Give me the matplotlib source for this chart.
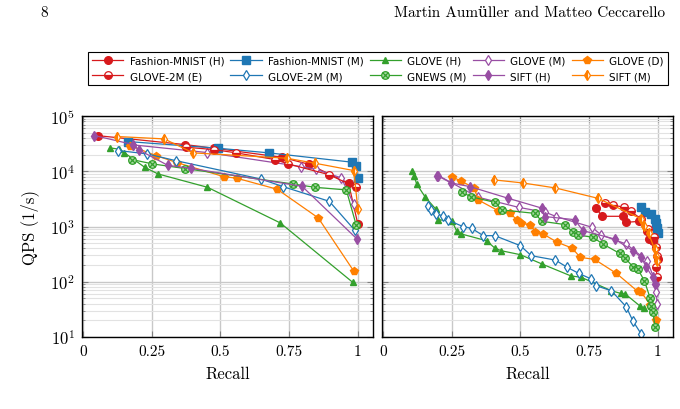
import matplotlib
matplotlib.use('Agg')
import matplotlib.pyplot as plt
from matplotlib.path import Path

plt.rcParams['mathtext.fontset'] = 'cm'
plt.rcParams['axes.formatter.use_mathtext'] = True

# ---------------- data: left panel ----------------
FMH_L_R = [0.056, 0.371, 0.477, 0.724, 0.821, 0.966, 1.0]
FMH_L_Q = [44000, 30400, 26100, 17900, 13400, 6100, 1100]
FMM_L_R = [0.163, 0.492, 0.677, 0.978, 0.992, 1.0]
FMM_L_Q = [34500, 26100, 21500, 14600, 12300, 7470]
GH_L_R = [0.099, 0.133, 0.150, 0.225, 0.273, 0.453, 0.718, 0.982]
GH_L_Q = [26500, 25000, 21800, 11800, 8950, 5130, 1160, 97]
GM_L_R = [0.183, 0.452, 0.795, 0.849, 0.940, 0.985]
GM_L_Q = [30000, 21800, 12100, 10800, 7570, 2560]
GD_L_R = [0.171, 0.266, 0.341, 0.512, 0.560, 0.707, 0.856, 0.985]
GD_L_Q = [29200, 19200, 14400, 8000, 7470, 4720, 1430, 156]
G2E_L_R = [0.375, 0.476, 0.558, 0.698, 0.746, 0.894, 0.994]
G2E_L_Q = [27200, 24700, 21500, 16300, 13600, 8700, 5130]
G2M_L_R = [0.129, 0.234, 0.337, 0.646, 0.728, 0.896, 0.988]
G2M_L_Q = [23700, 20600, 15600, 7260, 5270, 2860, 865]
GN_L_R = [0.178, 0.253, 0.371, 0.763, 0.843, 0.958, 0.994]
GN_L_Q = [16300, 13600, 11200, 5890, 5130, 4590, 1060]
SH_L_R = [0.042, 0.183, 0.203, 0.309, 0.392, 0.797, 0.997]
SH_L_Q = [44300, 30400, 24400, 12800, 11300, 5350, 593]
SM_L_R = [0.126, 0.296, 0.401, 0.742, 0.843, 0.985, 1.0]
SM_L_Q = [42500, 38500, 21500, 17200, 14000, 10300, 2050]

# ---------------- data: right panel ----------------
FMH_R_R = [0.776, 0.797, 0.873, 0.885, 0.933, 0.961, 0.966, 0.982, 1.0]
FMH_R_Q = [2130, 1530, 1530, 1190, 1240, 840, 593, 538, 258]
FMM_R_R = [0.940, 0.954, 0.976, 0.988, 0.994, 0.997, 1.0]
FMM_R_Q = [2220, 1810, 1690, 1370, 1140, 940, 752]
GH_R_R = [0.107, 0.113, 0.123, 0.153, 0.192, 0.202, 0.252, 0.268, 0.286, 0.377,
          0.407, 0.431, 0.500, 0.579, 0.683, 0.722, 0.831, 0.865, 0.882, 0.934, 0.949]
GH_R_Q = [10000, 8340, 5890, 3470, 2080, 1330, 1240, 840, 731, 553,
          407, 364, 309, 209, 128, 120, 68.7, 61.5, 59.8, 36.7, 33.3]
GM_R_R = [0.202, 0.347, 0.494, 0.591, 0.631, 0.761, 0.794, 0.885, 0.961, 0.994, 0.994, 0.997]
GM_R_Q = [8340, 3380, 2220, 1810, 1510, 966, 702, 482, 240, 90.8, 64, 39.4]
GD_R_R = [0.250, 0.286, 0.332, 0.347, 0.419, 0.462, 0.488, 0.504, 0.535, 0.555,
          0.583, 0.635, 0.688, 0.718, 0.770, 0.849, 0.927, 0.940, 0.973, 0.992]
GD_R_Q = [8000, 6590, 4990, 3020, 1940, 1760, 1310, 1140, 1080, 806,
          731, 516, 407, 276, 254, 142, 66.8, 64.1, 38.3, 20.5]
G2E_R_R = [0.806, 0.837, 0.877, 0.901, 0.940, 0.964, 0.986, 0.994, 0.997, 0.994, 0.997]
G2E_R_Q = [2670, 2450, 2220, 1880, 1370, 902, 637, 419, 296, 182, 120]
G2M_R_R = [0.163, 0.175, 0.192, 0.217, 0.236, 0.292, 0.323, 0.365, 0.407, 0.500,
           0.540, 0.627, 0.671, 0.712, 0.758, 0.776, 0.831, 0.885, 0.909, 0.940]
G2M_R_Q = [2390, 1990, 1690, 1570, 1310, 994, 927, 683, 683, 450,
           296, 247, 182, 142, 112, 84.6, 68.7, 35.2, 19.6, 11.2]
GN_R_R = [0.289, 0.319, 0.407, 0.434, 0.552, 0.579, 0.664, 0.691, 0.710, 0.764,
          0.800, 0.861, 0.881, 0.909, 0.927, 0.951, 0.972, 0.976, 0.982, 0.990]
GN_R_Q = [4160, 3470, 2740, 1990, 1730, 1240, 1080, 783, 702, 637,
          482, 326, 269, 187, 170, 104, 50.6, 36.7, 27.8, 15.3]
SH_R_R = [0.198, 0.248, 0.316, 0.456, 0.577, 0.591, 0.697, 0.728, 0.843, 0.909,
          0.940, 0.958, 0.982, 0.988]
SH_R_Q = [8340, 6150, 5280, 3240, 2160, 1510, 1330, 840, 593, 364,
          276, 182, 120, 90.8]
SM_R_R = [0.405, 0.508, 0.627, 0.782, 0.940, 0.949, 0.966, 0.988, 0.994, 0.997]
SM_R_Q = [6970, 6150, 4990, 3240, 1370, 1040, 751, 391, 296, 240]

LABELS = ['Fashion-MNIST (H)', 'Fashion-MNIST (M)', 'GLOVE (H)', 'GLOVE (M)', 'GLOVE (D)',
          'GLOVE-2M (E)', 'GLOVE-2M (M)', 'GNEWS (M)', 'SIFT (H)', 'SIFT (M)']
LEFT = [(FMH_L_R, FMH_L_Q), (FMM_L_R, FMM_L_Q), (GH_L_R, GH_L_Q), (GM_L_R, GM_L_Q),
        (GD_L_R, GD_L_Q), (G2E_L_R, G2E_L_Q), (G2M_L_R, G2M_L_Q), (GN_L_R, GN_L_Q),
        (SH_L_R, SH_L_Q), (SM_L_R, SM_L_Q)]
RIGHT = [(FMH_R_R, FMH_R_Q), (FMM_R_R, FMM_R_Q), (GH_R_R, GH_R_Q), (GM_R_R, GM_R_Q),
         (GD_R_R, GD_R_Q), (G2E_R_R, G2E_R_Q), (G2M_R_R, G2M_R_Q), (GN_R_R, GN_R_Q),
         (SH_R_R, SH_R_Q), (SM_R_R, SM_R_Q)]

X_TICKS = [0, 0.25, 0.5, 0.75, 1]
X_TICKLABELS = ['0', '0.25', '0.5', '0.75', '1']
Y_TICKS = [1e1, 1e2, 1e3, 1e4, 1e5]
Y_TICKLABELS = [r'$10^{1}$', r'$10^{2}$', r'$10^{3}$', r'$10^{4}$', r'$10^{5}$']

# ---------------- styles ----------------
RED = '#d7191c'; BLUE = '#1f77b4'; GREEN = '#33a02c'; PURPLE = '#984ea3'; ORANGE = '#ff7f00'
circ = Path.unit_circle()
cross = Path([[-0.72, -0.72], [0.72, 0.72], [-0.72, 0.72], [0.72, -0.72]],
             [Path.MOVETO, Path.LINETO, Path.MOVETO, Path.LINETO])
otimes = Path.make_compound_path(circ, cross)

STYLES = [
    dict(color=RED, marker='o', ms=5.5, mfc=RED, mec=RED),
    dict(color=BLUE, marker='s', ms=5.5, mfc=BLUE, mec=BLUE),
    dict(color=GREEN, marker='^', ms=4.5, mfc=GREEN, mec=GREEN),
    dict(color=PURPLE, marker='d', ms=5, mfc='white', mec=PURPLE, mew=0.9),
    dict(color=ORANGE, marker='p', ms=5.5, mfc=ORANGE, mec=ORANGE),
    dict(color=RED, marker='o', ms=5.5, mfc=RED, mec=RED, fillstyle='bottom',
         markerfacecoloralt='white', mew=0.9),
    dict(color=BLUE, marker='d', ms=5, mfc='white', mec=BLUE, mew=0.9),
    dict(color=GREEN, marker=otimes, ms=5.5, mfc='#a6dba0', mec=GREEN, mew=0.9),
    dict(color=PURPLE, marker='d', ms=5, mfc=PURPLE, mec=PURPLE),
    dict(color=ORANGE, marker='d', ms=5.5, mfc=ORANGE, mec=ORANGE, fillstyle='left',
         markerfacecoloralt='white', mew=0.9),
]

SERIF = ['cmr10', 'DejaVu Serif']

fig = plt.figure(figsize=(6.8, 4.1), dpi=100)
axL = fig.add_axes([82 / 680, 1 - 338 / 410, 291 / 680, 221 / 410])
axR = fig.add_axes([382 / 680, 1 - 338 / 410, 291 / 680, 221 / 410])

handles = []
for ax, data in ((axL, LEFT), (axR, RIGHT)):
    for (r, q), st, lab in zip(data, STYLES, LABELS):
        ln, = ax.plot(r, q, lw=0.9, label=lab, **st)
        if ax is axL:
            handles.append(ln)
    ax.set_yscale('log')
    ax.set_xlim(-0.003, 1.055)
    ax.set_ylim(10, 1e5)
    ax.set_xticks(X_TICKS)
    ax.set_xticklabels(X_TICKLABELS, family=SERIF, fontsize=11)
    ax.set_yticks(Y_TICKS)
    ax.grid(True, which='major', color='#c8c8c8', lw=1.0)
    ax.grid(True, which='minor', axis='y', color='#e2e2e2', lw=0.8)
    ax.set_axisbelow(True)
    ax.tick_params(which='both', direction='in', top=True, right=True, color='#808080')
    ax.tick_params(which='major', length=4, pad=5)
    ax.tick_params(which='minor', length=2.5)
    for sp in ax.spines.values():
        sp.set_linewidth(1.0)
        sp.set_color('black')
    ax.set_xlabel('Recall', family=SERIF, fontsize=12, labelpad=6)

axL.set_yticklabels(Y_TICKLABELS, fontsize=12)
axR.set_yticklabels([])
axL.set_ylabel('QPS (1/s)', family=SERIF, fontsize=12, labelpad=8)

order = [0, 5, 1, 6, 2, 7, 3, 8, 4, 9]
leg = fig.legend([handles[i] for i in order], [LABELS[i] for i in order], ncol=5,
                 loc='center', mode='expand',
                 bbox_to_anchor=(88 / 680, 1 - 92 / 410, 580 / 680, 45 / 410),
                 fontsize=7.5, frameon=True, fancybox=False, framealpha=1,
                 edgecolor='black', handlelength=3.0, handletextpad=0.6,
                 columnspacing=0.5, borderaxespad=0.0, labelspacing=0.5)
leg.get_frame().set_linewidth(0.8)

fig.text(40 / 680, 1 - 13 / 410, '8', family=SERIF, fontsize=11, ha='left', va='center')
fig.text(665 / 680, 1 - 13 / 410, 'Martin Aumüller and Matteo Ceccarello', family=SERIF,
         fontsize=11, ha='right', va='center')

fig.savefig('out.png', dpi=100)
